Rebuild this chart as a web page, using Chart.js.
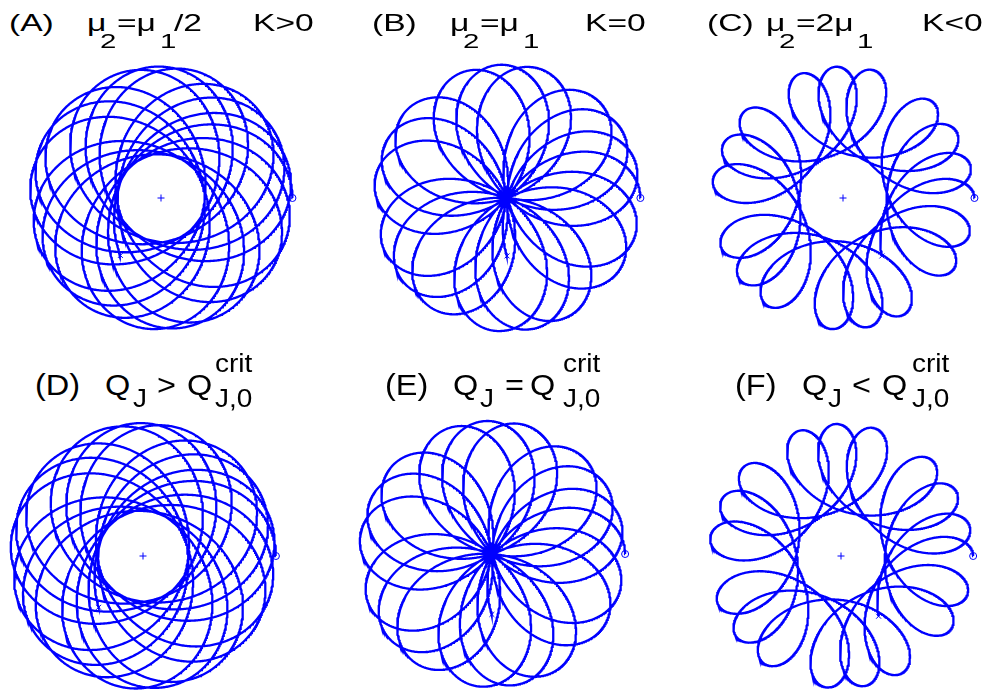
<!DOCTYPE html>
<html>
<head>
<meta charset="utf-8">
<script src="https://cdn.jsdelivr.net/npm/chart.js@4.4.1/dist/chart.umd.min.js"></script>
<style>
  html, body { margin:0; padding:0; width:986px; height:698px; overflow:hidden; background:#fff; }
  .cv { position:absolute; }
  .t { position:absolute; line-height:0; white-space:pre; font-family:"Liberation Sans", Arial, sans-serif; color:#000; transform-origin:0 0; z-index:5; }
</style>
</head>
<body>
<script>
// ---- data ----
const panelLabels = ['(A)', '(B)', '(C)', '(D)', '(E)', '(F)'];
// guiding-centre radius of each orbit (plot units)
const guideRadius = [45.5, 69, 90.5, 45.5, 68.85, 91];
// epicycle radius of each orbit (plot units)
const epiRadius = [90.5, 69, 45.5, 92, 68.85, 45.7];
// number of epicycle loops travelled between start (o) and end (x)
const loopCount = [17.647, 17.643, 17.645, 17.633, 17.65, 17.648];
// total turn of the guiding centre, degrees (negative = clockwise)
const guideTurnDeg = [-1108.1, -1105.7, -1106.3, -1107.5, -1107.1, -1108.1];

// ---- layout (positions on the page) ----
const plotCenterX = [161, 507, 843, 143.3, 492.3, 841];
const plotCenterY = [198, 198, 198, 555.7, 554, 556];
const HALF = 150;

function orbitPoints(A, B, loops, turnDeg) {
  const n = Math.round(loops * 400);
  const phi = turnDeg * Math.PI / 180;
  const psi = 2 * Math.PI * loops;
  const pts = [];
  for (let i = 0; i <= n; i++) {
    const s = i / n;
    const g = phi * s, e = g + psi * s;
    pts.push({ x: A * Math.cos(g) + B * Math.cos(e), y: A * Math.sin(g) + B * Math.sin(e) });
  }
  return pts;
}

const BLUE = '#0000ff';
for (let k = 0; k < 6; k++) {
  const c = document.createElement('canvas');
  c.className = 'cv';
  c.width = 2 * HALF; c.height = 2 * HALF;
  c.style.left = (plotCenterX[k] - HALF) + 'px';
  c.style.top = (plotCenterY[k] - HALF) + 'px';
  c.style.width = 2 * HALF + 'px'; c.style.height = 2 * HALF + 'px';
  document.body.appendChild(c);
  const pts = orbitPoints(guideRadius[k], epiRadius[k], loopCount[k], guideTurnDeg[k]);
  new Chart(c, {
    type: 'scatter',
    data: {
      datasets: [
        { data: pts, showLine: true, borderColor: BLUE, borderWidth: 2.3, pointRadius: 0, fill: false, tension: 0, clip: false },
        { data: [{ x: 0, y: 0 }], pointStyle: 'cross', pointRadius: 3.5, borderColor: BLUE, borderWidth: 1, clip: false },
        { data: [pts[0]], pointStyle: 'circle', pointRadius: 3.5, borderColor: BLUE, backgroundColor: 'rgba(0,0,0,0)', borderWidth: 1, clip: false },
        { data: [pts[pts.length - 1]], pointStyle: 'crossRot', pointRadius: 3.5, borderColor: BLUE, borderWidth: 1, clip: false }
      ]
    },
    options: {
      responsive: false, animation: false, devicePixelRatio: 1,
      layout: { padding: 0 },
      plugins: { legend: { display: false }, tooltip: { enabled: false } },
      scales: {
        x: { type: 'linear', min: -HALF, max: HALF, display: false },
        y: { type: 'linear', min: -HALF, max: HALF, display: false }
      }
    }
  });
}

// ---- titles (real text) ----
function put(txt, left, baseline, size, sx) {
  const d = document.createElement('div');
  d.className = 't';
  d.textContent = txt;
  d.style.fontSize = size + 'px';
  d.style.left = left + 'px';
  d.style.top = (baseline - 0.3465 * size) + 'px';
  d.style.transform = 'scaleX(' + sx + ')';
  document.body.appendChild(d);
}
const TS = 24, TSX = 1.4, SS = 21, TB = 31.7, SB = 48.3;
// top row
put(panelLabels[0], 9, TB, TS, TSX);
put('\u03bc', 87, TB, TS, TSX); put('2', 100, SB, SS, TSX); put('=\u03bc', 117, TB, TS, TSX); put('1', 160, SB, SS, TSX); put('/2', 174, TB, TS, TSX);
put('K>0', 253, TB, TS, TSX);
put(panelLabels[1], 372, TB, TS, TSX);
put('\u03bc', 450, TB, TS, TSX); put('2', 463, SB, SS, TSX); put('=\u03bc', 480, TB, TS, TSX); put('1', 523, SB, SS, TSX);
put('K=0', 585, TB, TS, TSX);
put(panelLabels[2], 707, TB, TS, TSX);
put('\u03bc', 766, TB, TS, TSX); put('2', 779, SB, SS, TSX); put('=2\u03bc', 796, TB, TS, TSX); put('1', 857, SB, SS, TSX);
put('K<0', 922, TB, TS, TSX);
// bottom row
const BS = 29, BSX = 1.12, BB = 395, BSUB = 406.7, BSUP = 371.7, BSS = 25;
put(panelLabels[3], 35, BB, BS, BSX);
put('Q', 105, BB, BS, BSX); put('J', 133, BSUB, BSS, BSX); put('>', 157, BB, BS, BSX); put('Q', 187, BB, BS, BSX);
put('crit', 215, BSUP, BSS, BSX); put('J,0', 215, BSUB, BSS, BSX);
put(panelLabels[4], 385, BB, BS, BSX);
put('Q', 453, BB, BS, BSX); put('J', 480, BSUB, BSS, BSX); put('=', 505, BB, BS, BSX); put('Q', 530, BB, BS, BSX);
put('crit', 563, BSUP, BSS, BSX); put('J,0', 563, BSUB, BSS, BSX);
put(panelLabels[5], 735, BB, BS, BSX);
put('Q', 802, BB, BS, BSX); put('J', 828, BSUB, BSS, BSX); put('<', 852, BB, BS, BSX); put('Q', 882, BB, BS, BSX);
put('crit', 912, BSUP, BSS, BSX); put('J,0', 912, BSUB, BSS, BSX);
</script>
</body>
</html>
